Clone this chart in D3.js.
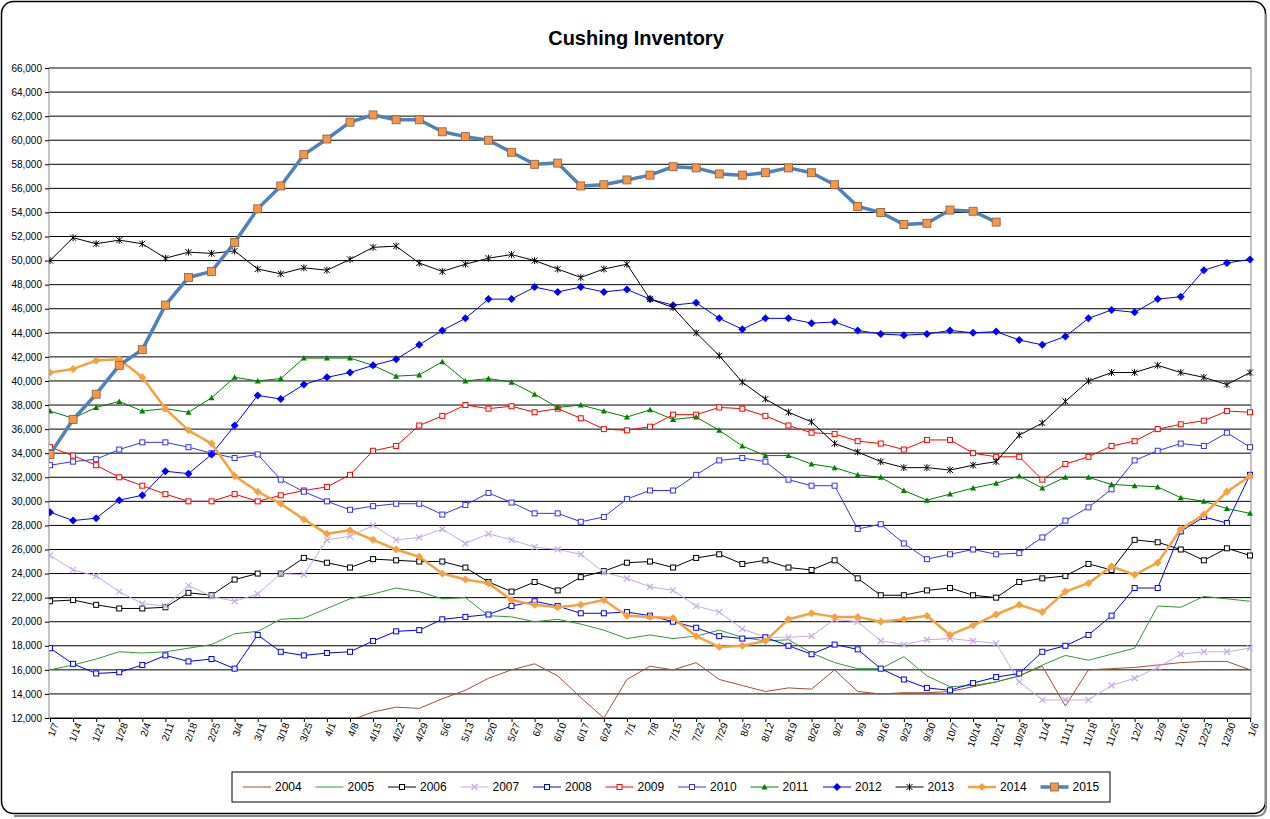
<!DOCTYPE html>
<html><head><meta charset="utf-8">
<script src="https://cdn.jsdelivr.net/npm/d3@7"></script>
<style>body{margin:0;background:#fff;font-family:Arial,"Liberation Sans",sans-serif}</style>
</head><body>
<svg id="c" width="1270" height="819"></svg>
<script>
// week labels
const weeks = ["1/7","1/14","1/21","1/28","2/4","2/11","2/18","2/25","3/4","3/11","3/18","3/25","4/1","4/8","4/15","4/22","4/29","5/6","5/13","5/20","5/27","6/3","6/10","6/17","6/24","7/1","7/8","7/15","7/22","7/29","8/5","8/12","8/19","8/26","9/2","9/9","9/16","9/23","9/30","10/7","10/14","10/21","10/28","11/4","11/11","11/18","11/25","12/2","12/9","12/16","12/23","12/30","1/6"];
const yTicks = d3.range(12000, 66001, 2000);

const s2004 = [null,null,null,null,null,null,null,null,null,null,null,null,null,11800,12500,12900,12800,13600,14300,15300,16000,16500,15500,13700,12000,15200,16300,16000,16600,15200,14700,14200,14500,14400,16000,14200,14000,14100,14100,14200,14600,15000,15500,16300,13000,16000,16100,16200,16400,16600,16700,16700,16000];
const s2005 = [16000,16400,16900,17500,17400,17500,17800,18100,19000,19200,20200,20300,21100,21900,22300,22800,22500,21900,22000,20500,20400,20000,20200,19800,19300,18600,18900,18600,18800,19300,18700,18400,18500,17400,16600,16100,16100,17100,15500,14600,14700,15000,15500,16400,17200,16800,17300,17800,21300,21200,22100,21900,21700];
const s2006 = [21700,21800,21400,21100,21100,21200,22400,22200,23500,24000,24000,25300,24900,24500,25200,25100,25000,25000,24500,23300,22500,23300,22600,23700,24200,24900,25000,24500,25300,25600,24800,25100,24500,24300,25100,23600,22200,22200,22600,22800,22200,22000,23300,23600,23800,24800,24300,26800,26600,26000,25100,26100,25500];
const s2007 = [25500,24300,23800,22500,21500,21300,23000,22100,21700,22300,24000,23900,26800,27100,28000,26800,27000,27700,26500,27300,26800,26200,26000,25600,24100,23600,22900,22600,21300,20800,19400,18700,18700,18800,20200,20000,18400,18100,18500,18600,18400,18200,15000,13500,13500,13500,14700,15300,16200,17300,17500,17500,17800];
const s2008 = [17800,16500,15700,15800,16400,17200,16700,16900,16100,18900,17500,17200,17400,17500,18400,19200,19300,20200,20400,20600,21300,21700,21300,20700,20700,20800,20500,20000,19500,18800,18600,18700,18000,17300,18100,17700,16100,15200,14500,14300,14900,15400,15700,17500,18000,18900,20500,22800,22800,27500,28700,28200,32200];
const s2009 = [34500,33800,33000,32000,31300,30600,30000,30000,30600,30000,30500,30900,31200,32200,34200,34600,36300,37100,38000,37700,37900,37400,37700,36900,36000,35900,36200,37200,37200,37800,37700,37100,36300,35700,35600,35000,34800,34300,35100,35100,34000,33700,33700,31800,33100,33700,34600,35000,36000,36400,36700,37500,37400];
const s2010 = [33000,33300,33500,34300,34900,34900,34500,34000,33600,33900,31800,30800,30000,29300,29600,29800,29800,28900,29700,30700,29900,29000,29000,28300,28700,30200,30900,30900,32200,33400,33600,33300,31800,31300,31300,27700,28100,26500,25200,25600,26000,25600,25700,27000,28400,29500,31000,33400,34200,34800,34600,35700,34500];
const s2011 = [37500,36900,37800,38300,37500,37700,37400,38600,40300,40000,40200,41900,41900,41900,41300,40400,40500,41600,40000,40200,39900,38900,37800,38000,37500,37000,37600,36800,37000,35900,34600,33800,33800,33100,32800,32200,32000,30900,30100,30600,31100,31500,32100,31100,32000,32000,31400,31300,31200,30300,30000,29400,29000];
const s2012 = [29100,28400,28600,30100,30500,32500,32300,33900,36300,38800,38500,39700,40300,40700,41300,41800,43000,44200,45200,46800,46800,47800,47400,47800,47400,47600,46800,46300,46500,45200,44300,45200,45200,44800,44900,44200,43900,43800,43900,44200,44000,44100,43400,43000,43700,45200,45900,45700,46800,47000,49200,49800,50100];
const s2013 = [50000,51900,51400,51700,51400,50200,50700,50600,50800,49300,48900,49400,49200,50100,51100,51200,49800,49100,49700,50200,50500,50000,49300,48600,49300,49700,46800,46100,44000,42100,39900,38500,37400,36600,34800,34100,33300,32800,32800,32600,33000,33300,35500,36500,38300,40000,40700,40700,41300,40700,40300,39700,40700];
const s2014 = [40700,41000,41700,41800,40300,37700,35900,34800,32100,30800,29800,28500,27300,27600,26800,26000,25400,24000,23500,23200,21800,21400,21200,21400,21800,20500,20400,20300,18800,17900,18000,18400,20200,20700,20400,20400,20000,20200,20500,18900,19700,20600,21400,20800,22500,23200,24600,23900,24900,27700,28900,30800,32100];
const s2015 = [33900,36800,38900,41300,42600,46300,48600,49100,51500,54300,56200,58800,60100,61500,62100,61700,61700,60700,60300,60000,59000,58000,58100,56200,56300,56700,57100,57800,57700,57200,57100,57300,57700,57300,56300,54500,54000,53000,53100,54200,54100,53200];

const series = [
  {name:"2004", data:s2004, color:"#a0522d", w:1, m:null},
  {name:"2005", data:s2005, color:"#339933", w:1, m:null},
  {name:"2006", data:s2006, color:"#000000", w:1, m:"sq"},
  {name:"2007", data:s2007, color:"#c8a8e8", w:1, m:"x"},
  {name:"2008", data:s2008, color:"#0000ff", w:1, m:"sq"},
  {name:"2009", data:s2009, color:"#ff0000", w:1, m:"sq"},
  {name:"2010", data:s2010, color:"#3333ff", w:1, m:"sq"},
  {name:"2011", data:s2011, color:"#008000", w:1, m:"tri"},
  {name:"2012", data:s2012, color:"#0000ff", w:1, m:"dia"},
  {name:"2013", data:s2013, color:"#000000", w:1, m:"star"},
  {name:"2014", data:s2014, color:"#f7a040", w:2.5, m:"dia"},
  {name:"2015", data:s2015, color:"#4f81bd", w:3.5, m:"bigsq"}
];

const svg = d3.select("#c");
svg.append("rect").attr("x",1.5).attr("y",1.5).attr("width",1264).attr("height",812)
  .attr("rx",12).attr("fill","#fff").attr("stroke","#000").attr("stroke-width",1.5);
svg.append("path").attr("d","M1266,14 V806 Q1266,816 1256,816 H14").attr("fill","none").attr("stroke","#888").attr("stroke-width",2);

svg.append("text").attr("x",636).attr("y",45).attr("text-anchor","middle")
  .attr("font-size",20).attr("font-weight","bold").text("Cushing Inventory");

const L = 49, R = 1251, T = 68, B = 718;
const x = d3.scalePoint().domain(weeks).range([L+1, R-1]);
const y = d3.scaleLinear().domain([12000, 66000]).range([B, T]);

const g = svg.append("g");
g.selectAll("line.grid").data(yTicks).join("line")
  .attr("x1",L).attr("x2",R).attr("y1",d=>y(d)).attr("y2",d=>y(d))
  .attr("stroke","#000").attr("stroke-width",1);
g.append("rect").attr("x",L).attr("y",T).attr("width",R-L).attr("height",B-T)
  .attr("fill","none").attr("stroke","#888");

const ya = svg.append("g").attr("transform",`translate(${L},0)`)
  .call(d3.axisLeft(y).tickValues(yTicks).tickFormat(d3.format(",")).tickSize(4));
ya.select(".domain").remove();
ya.selectAll("text").attr("font-size",10).attr("font-family","Arial");

const xa = svg.append("g").attr("transform",`translate(0,${B})`)
  .call(d3.axisBottom(x).tickSize(4));
xa.select(".domain").attr("stroke","#000");
xa.selectAll("text").attr("font-size",10).attr("font-family","Arial")
  .attr("text-anchor","end").attr("dx","-0.3em").attr("dy","0.3em")
  .attr("transform","rotate(-70)");

svg.append("clipPath").attr("id","pc").append("rect")
  .attr("x",L).attr("y",T-10).attr("width",R-L+10).attr("height",B-T+10);

function marker(sel, s, cx, cy) {
  const c = s.color;
  if (s.m === "sq") sel.append("rect").attr("x",cx-2.5).attr("y",cy-2.5).attr("width",5).attr("height",5).attr("fill","#fff").attr("stroke",c);
  else if (s.m === "bigsq") sel.append("rect").attr("x",cx-4).attr("y",cy-4).attr("width",8).attr("height",8).attr("fill","#f79646").attr("stroke","#7f6040").attr("stroke-width",0.8);
  else if (s.m === "dia") sel.append("path").attr("d",`M${cx},${cy-4}L${cx+4},${cy}L${cx},${cy+4}L${cx-4},${cy}Z`).attr("fill",c);
  else if (s.m === "tri") sel.append("path").attr("d",`M${cx},${cy-3}L${cx+3},${cy+2.5}L${cx-3},${cy+2.5}Z`).attr("fill",c);
  else if (s.m === "x") sel.append("path").attr("d",`M${cx-3},${cy-3}L${cx+3},${cy+3}M${cx-3},${cy+3}L${cx+3},${cy-3}`).attr("stroke",c).attr("stroke-width",1.2);
  else if (s.m === "star") sel.append("path").attr("d",`M${cx-3},${cy-3}L${cx+3},${cy+3}M${cx-3},${cy+3}L${cx+3},${cy-3}M${cx},${cy-3.5}V${cy+3.5}`).attr("stroke",c);
}

const plot = svg.append("g").attr("clip-path","url(#pc)");
const line = d3.line().defined(d=>d[1]!=null).x(d=>x(d[0])).y(d=>y(d[1]));
series.forEach(s => {
  const pts = s.data.map((v,i)=>[weeks[i], v]);
  plot.append("path").datum(pts).attr("d",line).attr("fill","none")
    .attr("stroke",s.color).attr("stroke-width",s.w).attr("stroke-linejoin","round");
  const mg = plot.append("g");
  pts.forEach(p => { if (p[1]!=null && y(p[1]) <= B) marker(mg, s, x(p[0]), y(p[1])); });
});

// legend
const lg = svg.append("g");
lg.append("rect").attr("x",232).attr("y",772).attr("width",878).attr("height",30).attr("fill","#fff").attr("stroke","#000");
series.forEach((s,i) => {
  const lx = 243 + i*72.5, ly = 787;
  lg.append("line").attr("x1",lx).attr("x2",lx+28).attr("y1",ly).attr("y2",ly).attr("stroke",s.color).attr("stroke-width",s.w);
  marker(lg, s, lx+14, ly);
  lg.append("text").attr("x",lx+32).attr("y",ly+4).attr("font-size",12).text(s.name);
});
</script>
</body></html>
